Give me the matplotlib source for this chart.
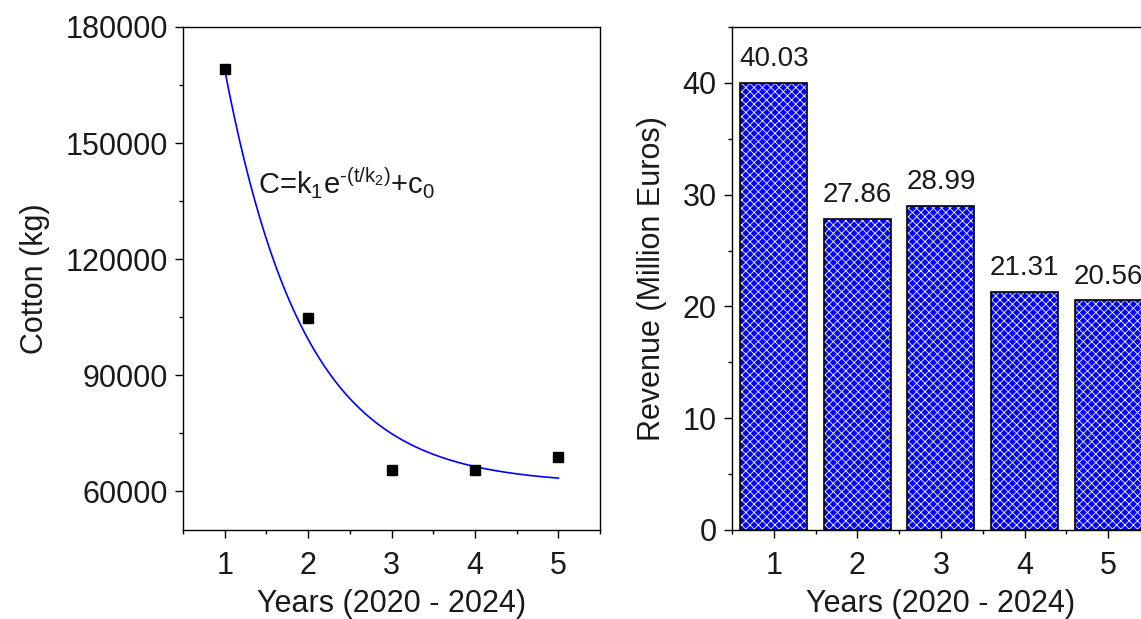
import numpy as np
import matplotlib
matplotlib.use("Agg")
import matplotlib.pyplot as plt
from matplotlib.ticker import MultipleLocator

plt.rcParams["font.family"] = ["Liberation Sans", "DejaVu Sans"]
plt.rcParams["mathtext.fontset"] = "custom"
plt.rcParams["mathtext.rm"] = "Liberation Sans"
plt.rcParams["mathtext.it"] = "Liberation Sans"
plt.rcParams["hatch.linewidth"] = 0.6

# ── data ──────────────────────────────────────────────────────────────────────
years = [1, 2, 3, 4, 5]
cotton_kg = [169100, 104700, 65400, 65400, 68800]

# exponential decay fit C = k1 * exp(-t/k2) + c0 (estimated parameters)
k1 = 306300.0
k2 = 0.952
c0 = 61800.0

revenue = [40.03, 27.86, 28.99, 21.31, 20.56]
revenue_labels = ["40.03", "27.86", "28.99", "21.31", "20.56"]

TICK_FS = 22
LABEL_FS = 22
BAR_FS = 20
EQ_FS = 21
BLUE = "#0000ff"
TXT = "#1a1a1a"


def style_axes(ax):
    for s in ax.spines.values():
        s.set_linewidth(1.0)
    ax.tick_params(which="major", direction="out", length=6, width=1.0,
                   labelsize=TICK_FS, pad=5, top=False, right=False,
                   labelcolor=TXT)
    ax.tick_params(axis="x", which="major", pad=9)
    ax.tick_params(which="minor", direction="out", length=3, width=1.0,
                   top=False, right=False)


fig = plt.figure(figsize=(11.41, 6.19), dpi=100)

# ── left: cotton with exponential fit ─────────────────────────────────────────
ax1 = fig.add_axes([0.1604, 0.1438, 0.3655, 0.8126])
t_fit = np.linspace(1, 5, 200)
ax1.plot(t_fit, k1 * np.exp(-t_fit / k2) + c0, color=BLUE, lw=1.2, zorder=2)
ax1.plot(years, cotton_kg, "s", color="black", ms=7, zorder=3)
ax1.text(1.4, 139500, r"C=k$_1$e$^{\text{-}(t/k_2)}$+c$_0$", fontsize=EQ_FS,
         va="center", ha="left", color=TXT)
ax1.set_xlim(0.5, 5.5)
ax1.set_ylim(50000, 180000)
ax1.xaxis.set_major_locator(MultipleLocator(1))
ax1.xaxis.set_minor_locator(MultipleLocator(0.5))
ax1.yaxis.set_major_locator(MultipleLocator(30000))
ax1.yaxis.set_minor_locator(MultipleLocator(15000))
ax1.set_xlabel("Years (2020 - 2024)", fontsize=LABEL_FS, labelpad=6, color=TXT)
ax1.set_ylabel("Cotton (kg)", fontsize=LABEL_FS, labelpad=11, color=TXT)
style_axes(ax1)

# ── right: revenue bars ───────────────────────────────────────────────────────
ax2 = fig.add_axes([0.6415, 0.1438, 0.3663, 0.8126])
ax2.bar(years, revenue, width=0.8, color=BLUE, edgecolor="white",
        hatch="xxxx", linewidth=0, zorder=2)
ax2.bar(years, revenue, width=0.8, fill=False, edgecolor="black",
        linewidth=1.2, zorder=3)
for x, v, lab in zip(years, revenue, revenue_labels):
    ax2.annotate(lab, (x, v), xytext=(0, 12), textcoords="offset points",
                 ha="center", va="baseline", fontsize=BAR_FS, color=TXT)
ax2.set_xlim(0.5, 5.5)
ax2.set_ylim(0, 45)
ax2.xaxis.set_major_locator(MultipleLocator(1))
ax2.xaxis.set_minor_locator(MultipleLocator(0.5))
ax2.yaxis.set_major_locator(MultipleLocator(10))
ax2.yaxis.set_minor_locator(MultipleLocator(5))
ax2.set_xlabel("Years (2020 - 2024)", fontsize=LABEL_FS, labelpad=6, color=TXT)
ax2.set_ylabel("Revenue (Million Euros)", fontsize=LABEL_FS, labelpad=11, color=TXT)
style_axes(ax2)

fig.savefig("out.png", dpi=100)
